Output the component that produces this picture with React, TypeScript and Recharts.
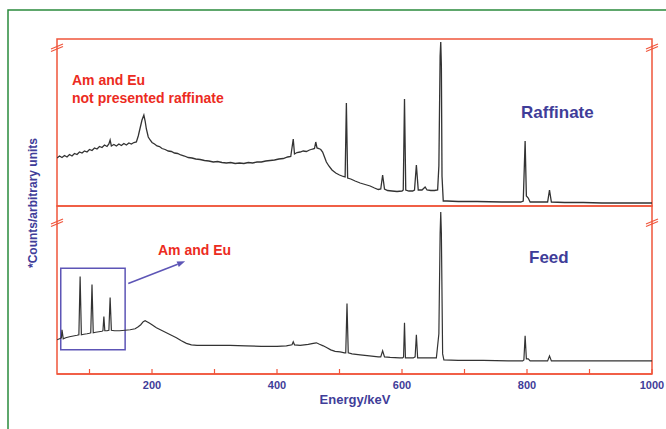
import { LineChart, Line, XAxis, YAxis, ReferenceArea, ReferenceLine } from 'recharts'

// gamma spectra, raffinate (top) and feed (bottom); counts in arbitrary units
const RAFF_ENERGY = [
  48, 52, 56, 60, 64, 68, 72, 76, 80, 84, 88, 92, 96, 100, 104, 108, 112, 116, 120, 124,
  128, 131, 133, 135, 139, 143, 147, 151, 155, 159, 163, 167, 171, 175, 178, 181, 184, 187, 189, 191,
  194, 197, 200, 204, 208, 212, 216, 221, 226, 231, 236, 241, 246, 252, 258, 264, 270, 277, 284, 291,
  298, 305, 312, 319, 326, 333, 340, 347, 354, 361, 368, 375, 382, 389, 396, 403, 410, 417, 422, 426,
  428, 432, 437, 442, 447, 452, 457, 460, 462, 464, 467, 470, 473, 476, 479, 483, 488, 494, 500, 506,
  509, 511, 513, 518, 525, 533, 541, 549, 556, 562, 566, 569, 572, 577, 584, 592, 600, 602, 604, 606,
  611, 617, 620, 623, 626, 632, 637, 640, 646, 652, 657, 659, 661, 662, 663, 664, 666, 672, 690, 720,
  760, 790, 794, 797, 799, 802, 805, 820, 833, 836, 839, 860, 890, 920, 960, 1000,
]
const RAFF_COUNTS = [
  48, 50, 48.5, 50.5, 49, 51.5, 50, 52.5, 51.5, 54, 53, 55, 54, 56.5, 55.5, 58, 57, 59.5, 58.5, 61,
  59.5, 62, 66, 60, 61.5, 60, 62, 60.5, 62.5, 61, 63, 62, 63.5, 64, 70, 78, 86, 91, 85, 77,
  69, 66, 63.5, 62, 60, 59.5, 57.5, 56.5, 55, 54.5, 53, 52.5, 51, 50, 48.5, 48, 47, 46.5, 45.5, 45,
  44, 44.5, 43.5, 43, 43.5, 42.5, 43, 42.5, 43.5, 43, 44, 44, 45, 45.5, 46, 47, 47.5, 49, 49.5, 67,
  52, 53.5, 54, 55, 54.5, 56, 57, 57.5, 64, 58, 57.5, 56.5, 54, 49, 44, 40, 36, 33, 31, 29.5,
  29, 103, 28, 27, 25, 23, 21.5, 20, 18, 16.5, 17, 31, 17, 15.5, 15, 14.5, 15, 16, 107, 16,
  15, 15, 16, 41, 16, 16, 19, 16, 15.5, 15.5, 16, 40, 150, 164, 140, 30, 5, 5, 4.5, 4.5,
  4, 4, 5, 65, 10, 8, 4, 4, 4, 16, 4, 3.5, 3.5, 3, 3, 3,
]

const FEED_ENERGY = [
  48, 52, 55, 56, 58, 62, 68, 72, 76, 80, 83, 85, 87, 91, 96, 100, 102, 104, 106, 110,
  115, 120, 121.5, 123, 124.5, 128, 131, 133, 135, 140, 148, 157, 165, 173, 178, 182, 186, 189, 192, 195,
  200, 207, 215, 223, 231, 239, 247, 255, 263, 272, 285, 300, 325, 350, 375, 400, 415, 424, 426, 428,
  437, 450, 458, 463, 468, 474, 480, 486, 493, 501, 508, 510, 512, 514, 520, 533, 548, 562, 566, 569,
  572, 581, 596, 601, 602.5, 604, 605.5, 612, 618, 621, 623, 625, 635, 645, 655, 659, 661, 662, 663, 665,
  667, 690, 730, 770, 793, 795, 797, 799, 802, 805, 833, 836, 839, 880, 940, 1000,
]
const FEED_COUNTS = [
  34, 35, 36, 44, 35, 36, 37, 37.5, 38, 38.5, 39, 97, 39, 39.5, 40, 40.5, 41, 89, 41, 41.5,
  42, 42.5, 43, 57, 43, 43, 43.5, 76, 43.5, 43, 43, 43.5, 44, 45, 47, 49, 52, 53, 52, 51,
  49, 46, 43.5, 41, 38.5, 36, 33, 30.5, 29, 28.5, 28.5, 28.5, 28.5, 28, 27.5, 27.5, 28, 29, 32, 29,
  28.5, 29.5, 30.5, 31, 29.5, 28, 26, 24, 22.5, 22, 21, 21, 70, 21, 20, 19, 18, 17, 17, 23,
  17, 16.5, 16, 16, 17, 51, 16, 16, 16, 17, 39, 16, 16, 16, 16, 40, 140, 161, 140, 20,
  14, 13.5, 13.5, 13, 13, 14, 38, 15, 15, 13, 13, 18, 13, 13, 13, 13,
]

const X_DOMAIN = [48, 1000]
const X_TICKS = [100, 200, 300, 400, 500, 600, 700, 800, 900, 1000]
const Y_DOMAIN = [0, 167]

const raffData = RAFF_ENERGY.map((e, i) => ({ e, c: RAFF_COUNTS[i] }))
const feedData = FEED_ENERGY.map((e, i) => ({ e, c: FEED_COUNTS[i] }))

const RED = '#f0553b'
const TEXT_RED = '#ec2b22'
const BLUE = '#3f3d99'
const BOX = '#5d55b6'
const LINE = '#333333'
const FONT = '"Liberation Sans", Arial, sans-serif'

function EnergyTick({ x, y, payload }: any) {
  return (
    <g>
      <line x1={x} x2={x} y1={y} y2={y - 5} stroke={RED} strokeWidth={1.2} />
      {payload.value % 200 === 0 && (
        <text x={x} y={y + 15} textAnchor="middle" fontSize={11} fontWeight="bold" fill={BLUE} fontFamily={FONT}>
          {payload.value}
        </text>
      )}
    </g>
  )
}

// arrow from the box to the "Am and Eu" label
function Arrow(p: any) {
  const { x1, y1, x2, y2 } = p
  const ang = Math.atan2(y2 - y1, x2 - x1)
  const len = 8
  const w = 3
  const bx = x2 - len * Math.cos(ang)
  const by = y2 - len * Math.sin(ang)
  const px = -Math.sin(ang) * w
  const py = Math.cos(ang) * w
  return (
    <g>
      <line x1={x1} y1={y1} x2={bx} y2={by} stroke={BOX} strokeWidth={1.5} />
      <polygon points={`${x2},${y2} ${bx + px},${by + py} ${bx - px},${by - py}`} fill={BOX} />
    </g>
  )
}

function BreakMark({ x, y }: { x: number; y: number }) {
  return (
    <g stroke={RED} strokeWidth={1.2}>
      <line x1={x - 6} y1={y + 3} x2={x + 6} y2={y - 2} />
      <line x1={x - 6} y1={y + 5.5} x2={x + 6} y2={y + 0.5} />
    </g>
  )
}

export default function App() {
  return (
    <div style={{ position: 'absolute', left: 0, top: 0, width: 666, height: 429, overflow: 'hidden', background: '#fff' }}>
      <div style={{ position: 'absolute', left: 0, top: 0 }}>
        <LineChart width={666} height={429} data={raffData} margin={{ top: 39, right: 14, bottom: 223, left: 57 }}>
          <XAxis dataKey="e" type="number" domain={X_DOMAIN} allowDataOverflow hide />
          <YAxis type="number" domain={Y_DOMAIN} allowDataOverflow hide />
          <ReferenceArea x1={48} x2={1000} y1={0} y2={167} stroke={RED} strokeWidth={1.5} fill="none" ifOverflow="visible" />
          <Line type="linear" dataKey="c" stroke={LINE} strokeWidth={1.3} dot={false} isAnimationActive={false} />
        </LineChart>
      </div>
      <div style={{ position: 'absolute', left: 0, top: 0 }}>
        <LineChart width={666} height={429} data={feedData} margin={{ top: 206, right: 14, bottom: 25, left: 57 }}>
          <XAxis
            dataKey="e"
            type="number"
            domain={X_DOMAIN}
            ticks={X_TICKS}
            allowDataOverflow
            height={30}
            axisLine={{ stroke: RED, strokeWidth: 1.5 }}
            tickLine={false}
            tickSize={0}
            tickMargin={0}
            tick={<EnergyTick />}
            interval={0}
          />
          <YAxis type="number" domain={Y_DOMAIN} allowDataOverflow hide />
          <ReferenceArea x1={48} x2={1000} y1={0} y2={167} stroke={RED} strokeWidth={1.5} fill="none" ifOverflow="visible" />
          <ReferenceArea x1={54} x2={157} y1={24} y2={105} stroke={BOX} strokeWidth={1.5} fill="none" ifOverflow="visible" />
          <ReferenceLine
            segment={[{ x: 162, y: 90 }, { x: 253, y: 112 }]}
            ifOverflow="visible"
            shape={<Arrow />}
          />
          <Line type="linear" dataKey="c" stroke={LINE} strokeWidth={1.2} dot={false} isAnimationActive={false} />
        </LineChart>
      </div>
      <svg width={666} height={429} style={{ position: 'absolute', left: 0, top: 0, pointerEvents: 'none' }} fontFamily={FONT}>
        <rect x={8} y={10} width={700} height={500} fill="none" stroke="#2a8a3c" strokeWidth={1.5} />
        <BreakMark x={57} y={46} />
        <BreakMark x={652} y={46} />
        <BreakMark x={57} y={221} />
        <BreakMark x={652} y={221} />
        <text x={72} y={85} fontSize={14} fontWeight="bold" fill={TEXT_RED}>Am and Eu</text>
        <text x={72} y={103} fontSize={14} fontWeight="bold" fill={TEXT_RED}>not presented raffinate</text>
        <text x={521} y={118} fontSize={17} fontWeight="bold" fill={BLUE}>Raffinate</text>
        <text x={158} y={255} fontSize={14} fontWeight="bold" fill={TEXT_RED}>Am and Eu</text>
        <text x={529} y={263} fontSize={17} fontWeight="bold" fill={BLUE}>Feed</text>
        <text x={355} y={404} fontSize={13} fontWeight="bold" fill={BLUE} textAnchor="middle">Energy/keV</text>
        <text
          x={0}
          y={0}
          transform="translate(37 203) rotate(-90)"
          fontSize={12}
          fontWeight="bold"
          fill={BLUE}
          textAnchor="middle"
        >
          *Counts/arbitrary units
        </text>
      </svg>
    </div>
  )
}
